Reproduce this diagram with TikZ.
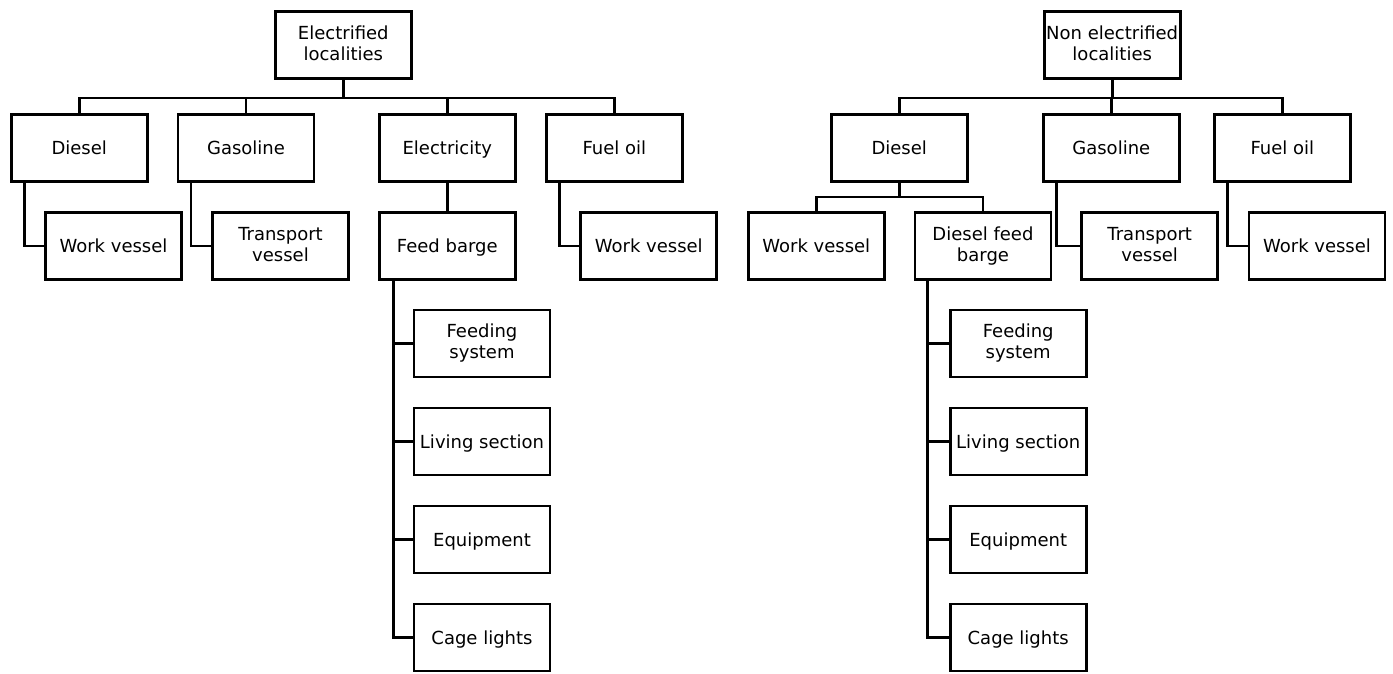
\documentclass[tikz,border=0pt]{standalone}
\usepackage{fontspec}
\setmainfont{DejaVu Sans}
% strut that centres the capitals of a line in its box
\newcommand\capstrut{\rule[-4pt]{0pt}{21pt}}
\begin{document}
\begin{tikzpicture}[x=1pt,y=-1pt,
  box/.style={draw, line width=2.8pt, rectangle, inner sep=0pt, align=center,
    minimum width=136pt, minimum height=67pt,
    font=\fontsize{18pt}{21pt}\selectfont,
    execute at begin node=\capstrut, execute at end node=\capstrut},
  link/.style={line width=2.8pt},
  stub/.style={line width=2.2pt}]
\useasboundingbox (0,0) rectangle (1393,673);

% ---------------- Electrified localities ----------------
\node[box] (eroot) at (343.3,45) {Electrified\\localities};
\node[box] (ediesel) at (79.2,148) {Diesel};
\node[box] (egas)    at (246,148)  {Gasoline};
\node[box] (eelec)   at (447.3,148) {Electricity};
\node[box] (efuel)   at (614.3,148) {Fuel oil};
\node[box] (ework)   at (113.5,246) {Work vessel};
\node[box] (etrans)  at (280.5,246) {Transport\\vessel};
\node[box] (efeed)   at (447.3,246) {Feed barge};
\node[box] (ework2)  at (648.8,246) {Work vessel};
\node[box] (efeeding) at (482,343.5) {Feeding\\system};
\node[box] (eliving)  at (482,441.5) {Living section};
\node[box] (eequip)   at (482,539.5) {Equipment};
\node[box] (ecage)    at (482,637.5) {Cage lights};

\coordinate (ebus) at (343.3,98);
\draw[link] (eroot.south) -- (ebus);
\draw[link] (ediesel.north) |- (ebus) -| (efuel.north);
\draw[link] (egas.north) -- (egas.north |- ebus);
\draw[link] (eelec.north) -- (eelec.north |- ebus);
\draw[link] ([xshift=-55pt]ediesel.south) |- (ework.west);
\draw[link] ([xshift=-55pt]egas.south) |- (etrans.west);
\draw[link] (eelec.south) -- (efeed.north);
\draw[link] ([xshift=-55pt]efuel.south) |- (ework2.west);
\coordinate (etrunk) at ([xshift=-54pt]efeed.south);
\draw[link] (etrunk) |- (ecage.west);
\foreach \n in {efeeding,eliving,eequip}
  \draw[stub] (\n.west) -- (\n.west -| etrunk);

% ---------------- Non electrified localities ----------------
\node[box] (rroot)   at (1112.2,45) {Non electrified\\localities};
\node[box] (rdiesel) at (899.2,148) {Diesel};
\node[box] (rgas)    at (1111.3,148) {Gasoline};
\node[box] (rfuel)   at (1282.3,148) {Fuel oil};
\node[box] (rwork)   at (816.3,246) {Work vessel};
\node[box] (rfeed)   at (983,246) {Diesel feed\\barge};
\node[box] (rtrans)  at (1149.7,246) {Transport\\vessel};
\node[box] (rwork2)  at (1317,246) {Work vessel};
\node[box] (rfeeding) at (1018.2,343.5) {Feeding\\system};
\node[box] (rliving)  at (1018.2,441.5) {Living section};
\node[box] (requip)   at (1018.2,539.5) {Equipment};
\node[box] (rcage)    at (1018.2,637.5) {Cage lights};

\coordinate (rbus) at (1112.2,98);
\draw[link] (rroot.south) -- (rbus);
\draw[link] (rdiesel.north) |- (rbus) -| (rfuel.north);
\draw[link] (rgas.north) -- (rgas.north |- rbus);
\coordinate (rsub) at (899.2,197);
\draw[link] (rdiesel.south) -- (rsub);
\draw[link] (rwork.north) |- (rsub) -| (rfeed.north);
\draw[link] ([xshift=-55pt]rgas.south) |- (rtrans.west);
\draw[link] ([xshift=-55pt]rfuel.south) |- (rwork2.west);
\coordinate (rtrunk) at ([xshift=-55.6pt]rfeed.south);
\draw[link] (rtrunk) |- (rcage.west);
\foreach \n in {rfeeding,rliving,requip}
  \draw[stub] (\n.west) -- (\n.west -| rtrunk);
\end{tikzpicture}
\end{document}
